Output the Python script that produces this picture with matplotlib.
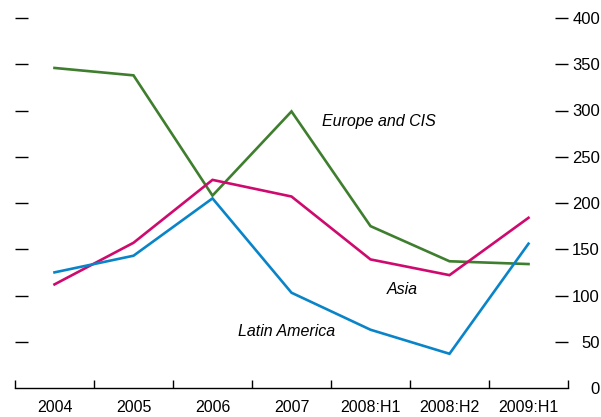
import matplotlib
matplotlib.use("Agg")
import matplotlib.pyplot as plt
from matplotlib.ticker import FixedLocator

categories = ["2004", "2005", "2006", "2007", "2008:H1", "2008:H2", "2009:H1"]
europe_cis = [346, 338, 208, 299, 175, 137, 134]
asia = [112, 157, 225, 207, 139, 122, 184]
latin_america = [125, 143, 205, 103, 63, 37, 156]
yticks = [0, 50, 100, 150, 200, 250, 300, 350, 400]

plt.rcParams['font.family'] = ['Liberation Sans', 'DejaVu Sans']

fig = plt.figure(figsize=(6.01, 4.17), dpi=100)
W, H = 601, 417
ax = fig.add_axes([15 / W, (H - 388) / H, (568 - 15) / W, (388 - 18) / H])

x = list(range(len(categories)))
green = '#3e7e2e'
magenta = '#cf0a6e'
blue = '#0a84c8'
ax.plot(x, europe_cis, color=green, lw=1.9, solid_joinstyle='miter')
ax.plot(x, asia, color=magenta, lw=1.9, solid_joinstyle='miter')
ax.plot(x, latin_america, color=blue, lw=1.9, solid_joinstyle='miter')

ax.set_xlim(-0.5, len(categories) - 0.5)
ax.set_ylim(0, 400)

for s in ['left', 'right', 'top']:
    ax.spines[s].set_visible(False)
ax.spines['bottom'].set_linewidth(1.0)

ax.set_xticks(x)
ax.set_xticklabels(categories, fontsize=11.5)
ax.xaxis.set_minor_locator(FixedLocator([i - 0.5 for i in range(len(categories) + 1)]))
ax.tick_params(axis='x', which='major', length=0, pad=9)
ax.tick_params(axis='x', which='minor', direction='in', length=6, width=1.0)

ax.set_yticks(yticks)
ax.set_yticklabels([str(v) for v in yticks], fontsize=12)
ax.tick_params(axis='y', which='major', direction='in', length=9.5, width=1.0,
               left=True, right=True, labelleft=False, labelright=True, pad=23)
for t in ax.yaxis.get_major_ticks():
    t.label2.set_horizontalalignment('right')
ax.yaxis.get_major_ticks()[0].tick1line.set_visible(False)
ax.yaxis.get_major_ticks()[0].tick2line.set_visible(False)

ax.text(4.1, 288, "Europe and CIS", fontsize=11.5, style='italic', ha='center', va='center')
ax.text(4.4, 106, "Asia", fontsize=11.5, style='italic', ha='center', va='center')
ax.text(2.94, 61, "Latin America", fontsize=11.5, style='italic', ha='center', va='center')

fig.savefig("out.png", dpi=100)
